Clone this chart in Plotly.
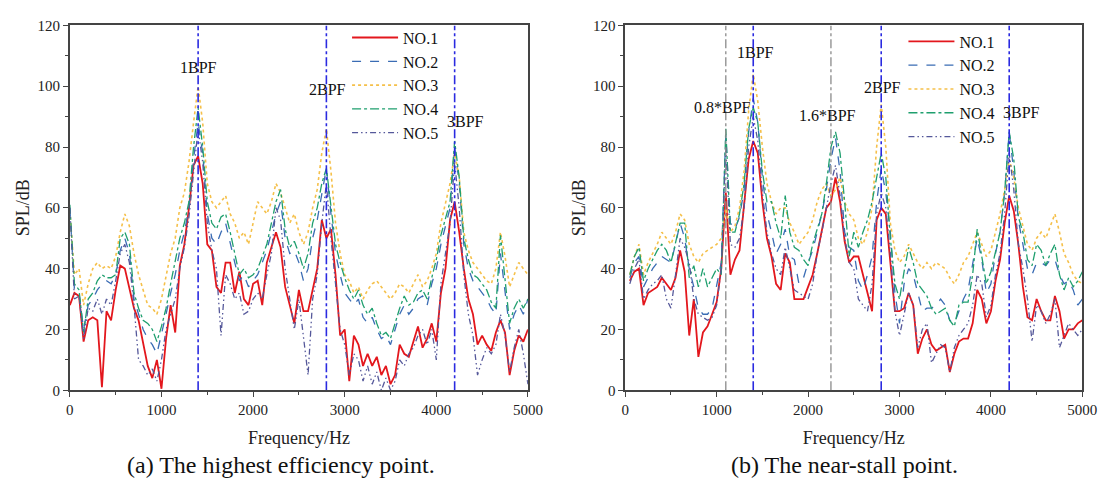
import plotly.graph_objects as go

# ---------------- data ----------------
freq_a = list(range(0, 5001, 50))
a_no1 = [28,32,31,16,23,24,23,1,26,23,33,41,40,34,27,23,15,8,4,10,0.5,17,28,19,41,48,60,74,77,68,
         48,46,34,32,42,42,32,39,30,28,35,36,28,42,47,52,47,34,28,22,33,26,26,33,40,56,50,53,38,18,
         20,3,18,15,8,12,8,11,5,8,2,5,15,12,11,16,21,14,17,22,16,32,40,56,62,52,40,30,25,15,
         18,15,13,19,23,19,5,13,18,16,20]
a_no2 = [60,33,32,20,28,30,33,35,36,35,38,46,50,45,30,25,20,17,15,12,18,25,32,38,46,52,60,76,88,78,
         58,50,48,52,55,48,42,36,38,34,36,38,42,46,52,58,62,50,45,46,42,36,40,50,56,65,73,58,45,38,
         32,30,28,30,24,22,24,20,17,18,15,20,25,28,25,27,30,31,28,35,40,48,54,60,80,68,48,40,36,34,
         32,30,27,25,45,33,20,25,28,25,30]
a_no3 = [59,38,40,28,35,40,42,40,41,40,44,52,58,54,45,38,33,28,27,25,30,38,45,50,60,65,75,88,100,88,
         68,62,60,62,64,58,55,50,52,48,55,62,60,58,62,68,65,60,55,58,52,48,52,60,66,78,86,72,55,45,
         38,36,32,34,30,33,35,36,34,32,30,32,35,34,32,35,38,34,36,40,45,55,62,68,78,70,52,46,42,40,
         38,36,35,40,52,44,34,38,42,40,38]
a_no4 = [61,35,33,19,30,32,36,38,37,37,38,50,52,48,32,27,23,22,20,16,21,27,35,42,50,55,62,80,93,80,
         62,55,53,57,58,52,45,38,40,37,38,40,44,48,55,62,66,53,47,49,45,40,45,55,60,68,73,60,48,42,
         37,33,30,33,28,25,27,22,18,19,17,22,27,31,28,29,32,33,30,37,43,51,57,62,82,70,50,43,38,37,
         35,33,29,27,51,36,22,27,30,27,30]
a_no5 = [60,30,31,17,27,26,30,25,30,28,36,45,48,42,28,10,8,5,7,3,10,20,25,30,40,47,57,72,86,75,
         55,46,40,18,38,35,30,32,25,26,30,32,30,38,45,60,56,40,30,20,30,18,5,30,38,55,68,50,35,20,
         15,5,12,10,3,8,2,6,0,4,0,3,10,8,12,14,18,20,15,20,10,35,45,55,75,60,38,25,18,5,
         10,14,12,15,25,18,6,14,20,12,2]

freq_b = list(range(50, 5001, 50))
b_no1 = [36,39,40,28,32,33,34,37,35,33,37,46,39,18,30,11,19,21,25,29,40,65,38,43,46,62,76,82,78,62,
         50,44,35,33,45,42,30,30,30,34,38,45,53,60,62,70,62,49,42,44,44,38,33,26,56,60,58,41,26,26,
         27,32,28,12,17,20,15,13,14,15,6,12,16,17,17,22,33,30,22,26,36,43,55,64,59,48,34,24,23,30,
         26,23,23,31,26,17,20,20,22,23]
b_no2 = [37,42,44,34,37,40,42,44,43,42,48,55,50,40,34,27,25,25,27,35,42,84,55,53,57,66,85,96,88,70,
         58,52,45,48,53,44,43,35,37,42,46,52,58,66,76,83,72,52,47,46,36,33,38,44,62,73,65,52,32,22,
         35,40,38,32,26,27,27,28,30,28,23,22,26,30,33,42,50,43,32,35,45,52,65,85,72,56,48,40,38,42,
         42,41,43,43,38,35,36,33,28,30]
b_no3 = [38,44,48,38,42,45,48,52,50,48,52,58,56,48,44,42,45,46,47,48,50,60,52,54,60,72,92,104,95,80,
         68,62,58,60,60,55,52,48,50,52,56,62,66,68,64,66,70,62,58,56,50,48,52,60,80,94,80,55,46,42,
         44,48,45,42,40,42,40,42,41,40,37,35,38,42,44,48,52,48,44,46,52,58,66,76,70,60,54,48,46,50,
         52,50,54,58,52,45,42,38,36,35]
b_no4 = [38,44,47,36,40,43,46,48,46,42,48,55,55,37,41,34,40,34,37,40,38,86,52,52,58,68,86,93,88,72,
         62,62,55,50,64,52,47,46,43,41,48,53,58,68,80,85,78,62,44,52,47,52,56,62,70,78,70,50,35,30,
         39,47,42,35,33,31,27,25,26,27,23,21,28,29,29,38,53,44,35,39,45,52,65,85,76,57,52,43,41,48,
         46,41,45,48,38,33,37,34,36,39]
b_no5 = [35,40,43,30,33,35,36,38,30,27,38,50,47,42,30,25,24,23,24,28,40,80,48,47,50,60,80,90,82,65,
         52,45,40,38,47,40,33,32,31,30,35,45,52,60,68,74,64,50,42,40,30,28,26,35,58,65,60,45,26,18,
         25,32,28,14,20,22,9,12,15,14,6,14,18,20,22,28,38,35,24,28,38,45,58,78,66,48,40,30,16,28,
         26,22,25,30,14,18,22,20,18,20]

series_names = ["NO.1", "NO.2", "NO.3", "NO.4", "NO.5"]
series_colors = ["#e3171d", "#3a6cb4", "#f5c04a", "#1f9f6e", "#55589a"]
series_dash = ["solid", "dash", "dot", "dashdot", "6px,3px,1.5px,3px,1.5px,3px"]
series_width = [1.8, 1.3, 1.6, 1.3, 1.3]

bpf_lines = [1400, 2800, 4200]
sub_lines_b = [1100, 2250]

labels_a = [("1BPF", 1400, 106), ("2BPF", 2810, 99), ("3BPF", 4320, 88.5)]
labels_b = [("0.8*BPF", 1060, 93), ("1BPF", 1430, 111), ("1.6*BPF", 2210, 90.5),
            ("2BPF", 2810, 99.7), ("3BPF", 4330, 91.5)]

captions = ["(a) The highest efficiency point.", "(b) The near-stall point."]

FONT = "Liberation Serif"
W, H = 1117, 496

fig = go.Figure()

data_a = [a_no1, a_no2, a_no3, a_no4, a_no5]
data_b = [b_no1, b_no2, b_no3, b_no4, b_no5]

for i in range(5):
    fig.add_trace(go.Scatter(x=freq_a, y=data_a[i], mode="lines", name=series_names[i],
                             line=dict(color=series_colors[i], dash=series_dash[i], width=series_width[i]),
                             xaxis="x", yaxis="y", legend="legend"))
for i in range(5):
    fig.add_trace(go.Scatter(x=freq_b, y=data_b[i], mode="lines", name=series_names[i],
                             line=dict(color=series_colors[i], dash=series_dash[i], width=series_width[i]),
                             xaxis="x2", yaxis="y2", legend="legend2"))

shapes = []
for f in bpf_lines:
    for xr, yr in (("x", "y"), ("x2", "y2")):
        shapes.append(dict(type="line", xref=xr, yref=yr, x0=f, x1=f, y0=0, y1=120,
                           line=dict(color="#2a2ae0", width=1.6, dash="dashdot"), layer="above"))
for f in sub_lines_b:
    shapes.append(dict(type="line", xref="x2", yref="y2", x0=f, x1=f, y0=0, y1=120,
                       line=dict(color="#8a8a8a", width=1.3, dash="dashdot"), layer="above"))

annotations = []
for t, x, y in labels_a:
    annotations.append(dict(text=t, x=x, y=y, xref="x", yref="y", showarrow=False,
                            xanchor="center", yanchor="middle",
                            font=dict(family=FONT, size=16, color="#111")))
for t, x, y in labels_b:
    annotations.append(dict(text=t, x=x, y=y, xref="x2", yref="y2", showarrow=False,
                            xanchor="center", yanchor="middle",
                            font=dict(family=FONT, size=16, color="#111")))
for cap, cx in zip(captions, (282, 855)):
    annotations.append(dict(text=cap, x=cx / W, y=1 - 472 / H, xref="paper", yref="paper",
                            xanchor="center", yanchor="middle", showarrow=False,
                            font=dict(family=FONT, size=24, color="#111")))

axis_common = dict(range=[0, 5000], showline=True, linecolor="#444", linewidth=1.5, mirror=True,
                   ticks="outside", ticklen=5, tickwidth=1.2, tickcolor="#444",
                   dtick=1000, tick0=0, showgrid=False, zeroline=False,
                   minor=dict(ticks="outside", ticklen=3, dtick=500, tickcolor="#444", showgrid=False),
                   tickfont=dict(family=FONT, size=15, color="#222"),
                   title=dict(text="Frequency/Hz", font=dict(family=FONT, size=18, color="#222"), standoff=14))
yaxis_common = dict(range=[0, 120], showline=True, linecolor="#444", linewidth=1.5, mirror=True,
                    ticks="outside", ticklen=5, tickwidth=1.2, tickcolor="#444",
                    dtick=20, tick0=0, showgrid=False, zeroline=False,
                    minor=dict(ticks="outside", ticklen=3, dtick=10, tickcolor="#444", showgrid=False),
                    tickfont=dict(family=FONT, size=15, color="#222"),
                    title=dict(text="SPL/dB", font=dict(family=FONT, size=18, color="#222"), standoff=3))

ydom = [1 - 395 / H, 1 - 18 / H]
fig.update_layout(
    width=W, height=H, margin=dict(l=0, r=0, t=0, b=0),
    paper_bgcolor="white", plot_bgcolor="white",
    xaxis=dict(domain=[67 / W, 533 / W], anchor="y", **axis_common),
    yaxis=dict(domain=ydom, anchor="x", **yaxis_common),
    xaxis2=dict(domain=[632 / W, 1097 / W], anchor="y2", **axis_common),
    yaxis2=dict(domain=ydom, anchor="x2", **yaxis_common),
    shapes=shapes, annotations=annotations,
    legend=dict(x=349 / W, y=1 - 13 / H, xanchor="left", yanchor="top", bgcolor="rgba(0,0,0,0)",
                font=dict(family=FONT, size=16, color="#111"), tracegroupgap=0, itemwidth=46),
    legend2=dict(x=915 / W, y=1 - 17 / H, xanchor="left", yanchor="top", bgcolor="rgba(0,0,0,0)",
                 font=dict(family=FONT, size=16, color="#111"), tracegroupgap=0, itemwidth=46),
    showlegend=True,
)

fig.write_html("out.html")
